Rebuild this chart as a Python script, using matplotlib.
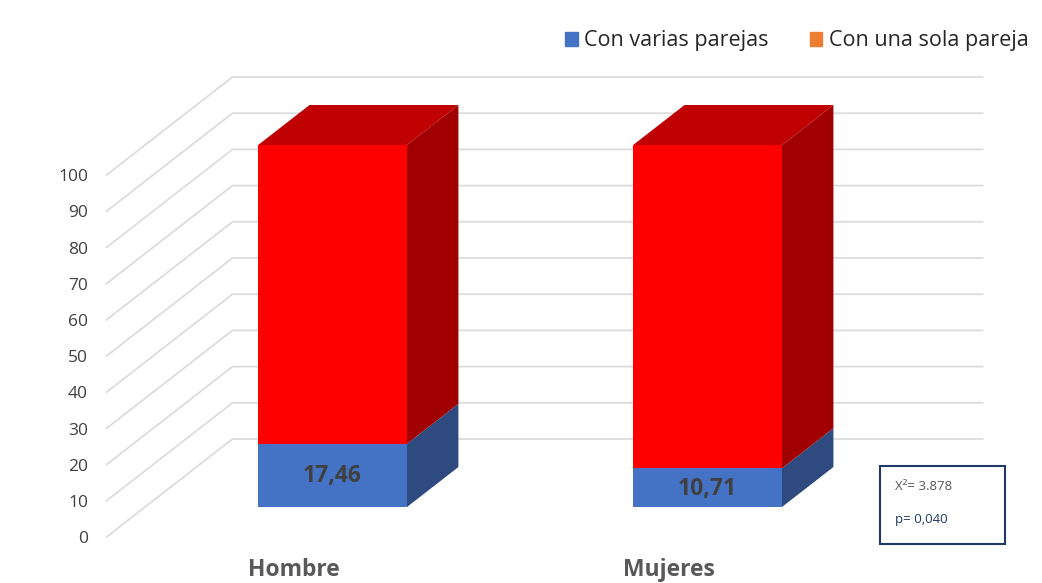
import matplotlib
matplotlib.use("Agg")
import matplotlib.pyplot as plt
from matplotlib.patches import Patch, Rectangle

plt.rcParams['font.family'] = ['Open Sans', 'DejaVu Sans']

categories = ['Hombre', 'Mujeres']
varias = [17.46, 10.71]
una_sola = [82.54, 89.29]
labels_varias = ['17,46', '10,71']
y_ticks = [0, 10, 20, 30, 40, 50, 60, 70, 80, 90, 100]
stats_text = ['X²= 3.878', 'p= 0,040']

# oblique projection: depth d in [0, 1] moves right and up
KX = 126 / 375
KY = 98 / 3.62
BAR_W = 0.397
D0, D1 = 0.306, 0.714

blue_front, blue_side = '#4472C4', '#2E4A7F'
red_front, red_top, red_side = '#FF0000', '#C00000', '#A00000'
grid_c = '#DCDCDC'


def proj(x, v, d):
    return (x + KX * d, v + KY * d)


def face(ax, pts, color):
    xy = [proj(*p) for p in pts]
    ax.fill([p[0] for p in xy], [p[1] for p in xy], color=color, lw=0)


fig = plt.figure(figsize=(10.42, 5.83), dpi=100)
ax = fig.add_axes([0, 0, 1, 1])
ax.set_xlim(-294 / 375, (1042 - 294) / 375)
ax.set_ylim(-46 / 3.62, 537 / 3.62)
ax.axis('off')

# walls: diagonal lines on the side wall and horizontal lines on the back wall
x_left, x_right = -0.5, 1.5
for t in y_ticks:
    a = proj(x_left, t, 0)
    b = proj(x_left, t, 1)
    c = proj(x_right, t, 1)
    ax.plot([a[0], b[0], c[0]], [a[1], b[1], c[1]], color=grid_c, lw=1.3,
            solid_joinstyle='miter', zorder=1)
    ax.text((88 - 294) / 375, t - 0.6, str(t), ha='right', va='center',
            fontsize=12.5, color='#404040')

for i, cat in enumerate(categories):
    x0, x1 = i - BAR_W / 2, i + BAR_W / 2
    segs = [(0, varias[i], blue_front, blue_side),
            (varias[i], varias[i] + una_sola[i], red_front, red_side)]
    for b, t, fc, sc in segs:
        face(ax, [(x1, b, D0), (x1, b, D1), (x1, t, D1), (x1, t, D0)], sc)
        face(ax, [(x0, b, D0), (x1, b, D0), (x1, t, D0), (x0, t, D0)], fc)
    top = varias[i] + una_sola[i]
    face(ax, [(x0, top, D0), (x1, top, D0), (x1, top, D1), (x0, top, D1)], red_top)

    cx, cy = proj(i, varias[i] / 2, D0)
    ax.text(cx, cy - 0.3, labels_varias[i], ha='center', va='center',
            fontsize=16.5, fontweight='bold', color='#404040')
    ax.text(i, -9.2, cat, ha='center', va='center', fontsize=16.5,
            fontweight='bold', color='#595959')

handles = [Patch(color='#4472C4', label='Con varias parejas'),
           Patch(color='#ED7D31', label='Con una sola pareja')]
fig.legend(handles=handles, loc='upper right', bbox_to_anchor=(1.0 + 6 / 1042, 1.0 - 11 / 583),
           ncol=2, frameon=False, fontsize=15.5, handlelength=0.6,
           handleheight=0.6, handletextpad=0.3, columnspacing=1.9,
           labelcolor='#262626')

box = Rectangle((880 / 1042, 39 / 583), 125 / 1042, 78 / 583,
                transform=fig.transFigure, fill=False, ec='#1F3864', lw=1.5)
fig.patches.append(box)
fig.text(895 / 1042, 1 - 487 / 583, stats_text[0], ha='left', va='center',
         fontsize=9.5, color='#595959')
fig.text(895 / 1042, 1 - 520 / 583, stats_text[1], ha='left', va='center',
         fontsize=9.5, color='#1F3864')

fig.savefig('out.png', dpi=100)
